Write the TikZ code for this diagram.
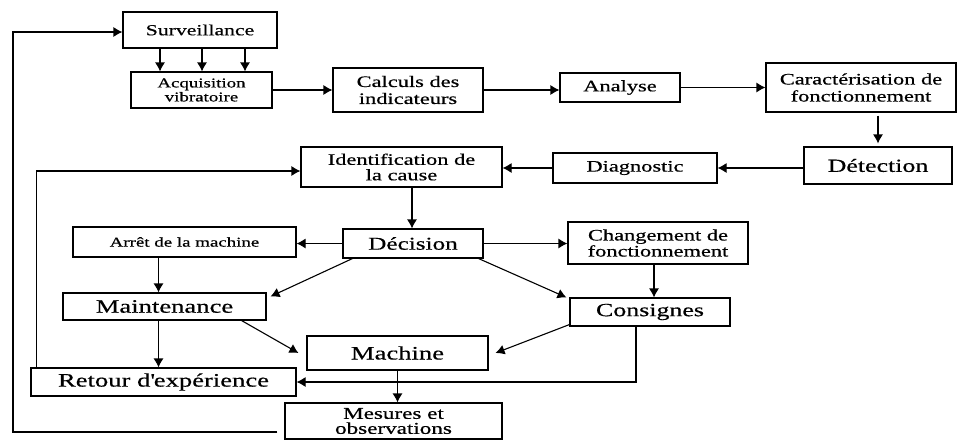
\documentclass[tikz,border=0pt]{standalone}
\usepackage{fontspec}
\setmainfont{Liberation Serif}[FakeStretch=1.4,FakeBold=0.5]
\usepackage{tikz}
\usetikzlibrary{arrows.meta}
\newcommand{\sz}[2]{\fontsize{#1pt}{#2pt}\selectfont}

\begin{document}
\begin{tikzpicture}[x=1pt,y=-1pt,line width=1.1pt,
    box/.style={draw,inner sep=0pt,align=center},
    >={Latex[length=9pt,width=10pt]}]
    \useasboundingbox (0,0) rectangle (957,439);

    %% chaine de surveillance
    \node[box,minimum width=154pt,minimum height=36pt,font=\sz{15.5}{16}] (1) at (200,30) {Surveillance};
    \node[box,minimum width=141pt,minimum height=36pt,font=\sz{13.5}{14}] (2) at (201.5,90) {Acquisition\\vibratoire};
    \node[box,minimum width=150pt,minimum height=44pt,font=\sz{16}{17}] (3) at (408,90) {Calculs des\\indicateurs};
    \node[box,minimum width=120pt,minimum height=29pt,font=\sz{16}{17}] (4) at (620,87.5) {Analyse};
    \node[box,minimum width=190pt,minimum height=49pt,font=\sz{16}{17}] (5) at (861,87.5) {Caractérisation de\\fonctionnement};
    \node[box,minimum width=148pt,minimum height=37pt,font=\sz{18.5}{19}] (6) at (878,165.5) {Détection};
    \node[box,minimum width=164pt,minimum height=30pt,font=\sz{16}{17}] (7) at (635,168) {Diagnostic};
    \node[box,minimum width=201pt,minimum height=40pt,font=\sz{16}{15.5}] (8) at (401.5,167) {Identification de\\la cause};
    %% decision
    \node[box,minimum width=140pt,minimum height=29pt,font=\sz{18}{19}] (9) at (413,243.5) {Décision};
    \node[box,minimum width=223pt,minimum height=30pt,font=\sz{13.5}{14}] (10) at (184.5,242) {Arrêt de la machine};
    \node[box,minimum width=180pt,minimum height=42pt,font=\sz{16}{16}] (11) at (658,243) {Changement de\\fonctionnement};
    \node[box,minimum width=203pt,minimum height=27pt,font=\sz{19}{20}] (12) at (164.5,306.5) {Maintenance};
    \node[box,minimum width=160pt,minimum height=28pt,font=\sz{18.5}{19}] (13) at (650,312) {Consignes};
    \node[box,minimum width=181pt,minimum height=34pt,font=\sz{19}{20}] (14) at (397.5,353) {Machine};
    \node[box,minimum width=265pt,minimum height=28pt,font=\sz{19}{20}] (15) at (163.5,382) {Retour d\textquotesingle expérience};
    \node[box,minimum width=217pt,minimum height=36pt,font=\sz{16.5}{15}] (16) at (393.5,421) {Mesures et\\observations};
    \coordinate (fb) at (13,0);

    %% chaine
    \foreach \d in {-40,2,45}
      \draw[->] ([xshift=\d pt]1.south) -- ([xshift=\d pt]1.south |- 2.north);
    \draw[->] (2) -- (3);
    \draw[->] (3) -- (3 -| 4.west);
    \draw[->] (4) -- (4 -| 5.west);
    \draw[->] ([yshift=-3pt]6 |- 5.south) -- ([yshift=3pt]6.north);
    \draw[->] (6.west |- 7) -- (7.east);
    \draw[->] (7) -- (7 -| 8.east);
    \draw[->] ([xshift=-1pt]9 |- 8.south) -- ([xshift=-1pt]9.north);
    %% decision
    \draw[->] (9) -- (9 -| 10.east);
    \draw[->] (9) -- (9 -| 11.west);
    \draw[->] ([xshift=-6pt]12 |- 10.south) -- ([xshift=-6pt]12.north);
    \draw[->] ([xshift=-4pt]11.south) -- ([xshift=-4pt]11.south |- 13.north);
    \draw[->] ([xshift=10pt]9.south west) -- ([shift={(4pt,-4pt)}]12.north east);
    \draw[->] ([xshift=-5pt]9.south east) -- ([xshift=-3pt]13.north west);
    \draw[->] ([xshift=-25pt]12.south east) -- ([xshift=-8pt]14.west);
    \draw[->] ([yshift=2pt]13.south west) -- ([xshift=7pt]14.east);
    %% retour
    \draw[->] ([xshift=-6pt]12.south) -- ([xshift=-6pt]12.south |- 15.north);
    \draw[->] ([xshift=-14pt]13.south) |- (15.east);
    \draw[->] (14) -- (14 |- 16.north);
    \draw[->] ([xshift=6pt]15.north west) |- ([yshift=-4pt]8.west);
    \draw[->] ([shift={(-7pt,-11pt)}]16.west) -- ([yshift=-11pt]16.west -| fb) |- ([yshift=-2pt]1.west);
  \end{tikzpicture}
\end{document}
